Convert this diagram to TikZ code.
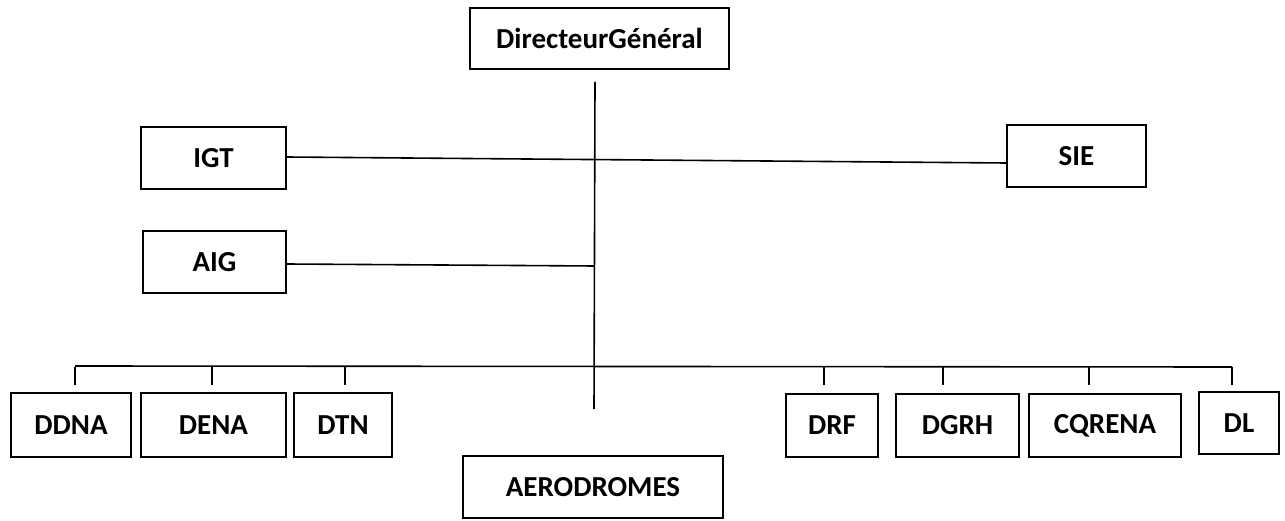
\documentclass[tikz,border=0pt]{standalone}
\usepackage{fontspec}
\setmainfont{Carlito}
\usetikzlibrary{calc}
\begin{document}
\begin{tikzpicture}[x=1pt,y=-1pt,
  unit/.style={draw, line width=1.8pt, minimum height=62pt, inner sep=0pt,
    font=\fontsize{29}{34}\selectfont\bfseries},
  link/.style={line width=1.6pt}]
\useasboundingbox (0,0) rectangle (1285,521);

% top management and staff units
\node[unit, minimum width=259pt, minimum height=61pt] (dg) at (599.5,38.5) {DirecteurGénéral};
\node[unit, minimum width=145pt] (igt) at (213.5,158) {IGT};
\node[unit, minimum width=143pt] (aig) at (214.5,262) {AIG};
\node[unit, minimum width=139pt] (sie) at (1076.5,156) {SIE};

% directorates
\node[unit, minimum width=120pt, minimum height=64pt] (ddna) at (71,425) {DDNA};
\node[unit, minimum width=145pt, minimum height=64pt] (dena) at (213.5,425) {DENA};
\node[unit, minimum width=98pt, minimum height=64pt] (dtn) at (343,425) {DTN};
\node[unit, minimum width=92pt, minimum height=63pt] (drf) at (832,425.5) {DRF};
\node[unit, minimum width=123pt, minimum height=63pt] (dgrh) at (957.5,425.5) {DGRH};
\node[unit, minimum width=152pt, minimum height=63pt] (cqrena) at (1105,425.5) {CQRENA};
\node[unit, minimum width=80pt, minimum height=62pt] (dl) at (1239,423) {DL};
\node[unit, minimum width=260pt, minimum height=62pt] (aero) at (593,487) {AERODROMES};

% main trunk
\coordinate (trunkTop) at (595,82);
\coordinate (trunkBot) at (594,409);
\coordinate (aigJoin) at (595,266);
\draw[link] (trunkTop) -- (trunkBot);

% staff links
\draw[link] ($(igt.east)+(0,-1)$) -- ($(sie.west)+(0,7)$);
\draw[link] ($(aig.east)+(0,2)$) -- (aigJoin);

% distribution bus
\coordinate (busL) at (75,366);
\coordinate (busR) at (1232,367);
\draw[link] (busL) -- (busR);

% drops towards the directorates
\foreach \x/\n in {75/ddna,212/dena,345/dtn,824/drf,943/dgrh,1089/cqrena,1232/dl}{
  \coordinate (top-\n) at (\x,366.5);
  \coordinate (end-\n) at (\x,385);
  \draw[link] (top-\n) -- (end-\n);
}
\end{tikzpicture}
\end{document}
